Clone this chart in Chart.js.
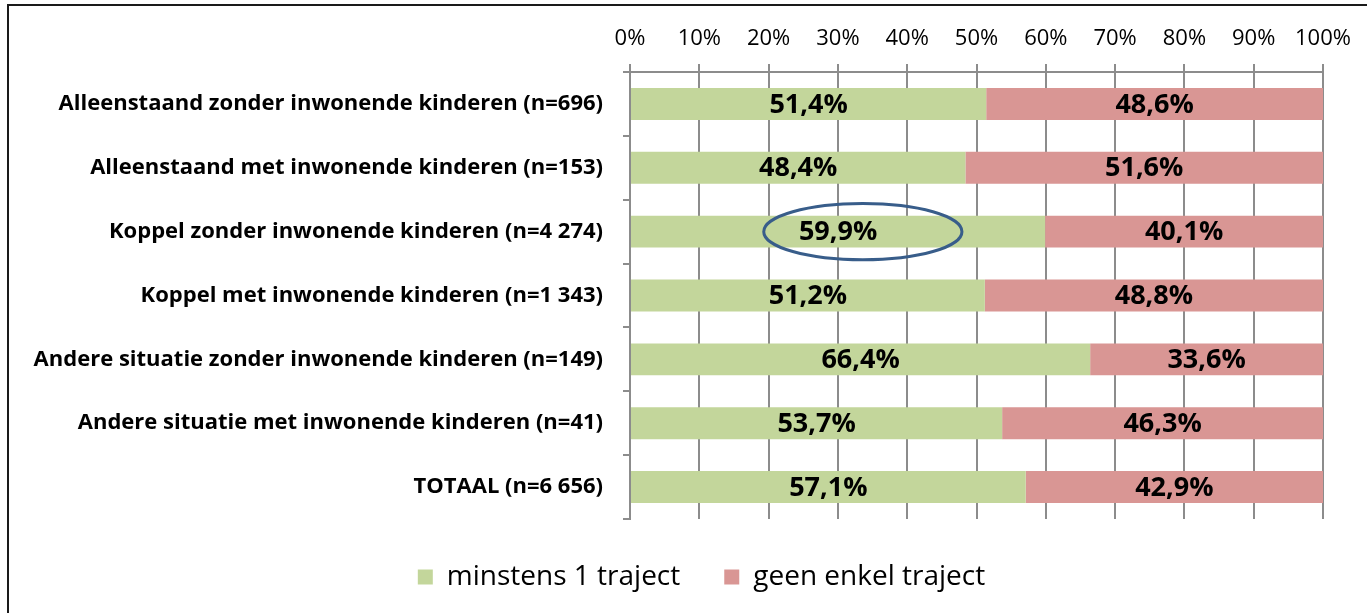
<!DOCTYPE html>
<html>
<head>
<meta charset="utf-8">
<script src="https://cdn.jsdelivr.net/npm/chart.js@4"></script>
<style>
  html, body { margin: 0; padding: 0; background: #fff; }
  #wrap { position: relative; width: 1367px; height: 613px; overflow: hidden; }
  #frame { position: absolute; left: 7px; top: 4px; width: 1400px; height: 700px;
    border-top: 2px solid #1a1a1a; border-left: 2px solid #1a1a1a; pointer-events: none; }
</style>
</head>
<body>
<div id="wrap">
  <canvas id="chart" width="1367" height="613"></canvas>
  <div id="frame"></div>
</div>
<script>
const categories = [
  "Alleenstaand zonder inwonende kinderen (n=696)",
  "Alleenstaand met inwonende kinderen (n=153)",
  "Koppel zonder inwonende kinderen (n=4 274)",
  "Koppel met inwonende kinderen (n=1 343)",
  "Andere situatie zonder inwonende kinderen (n=149)",
  "Andere situatie met inwonende kinderen (n=41)",
  "TOTAAL (n=6 656)",
];
const minstensEen = [51.4, 48.4, 59.9, 51.2, 66.4, 53.7, 57.1];
const geenEnkel = [48.6, 51.6, 40.1, 48.8, 33.6, 46.3, 42.9];
const seriesNames = ["minstens 1 traject", "geen enkel traject"];
const xTicks = [0, 10, 20, 30, 40, 50, 60, 70, 80, 90, 100];
// highlighted row and the span of the ellipse drawn around its label (in %)
const highlightRow = 2;
const highlightSpan = [19.3, 47.9];

const GRID = "#8c8c8c";
const FONT = "'Open Sans'";
const LEGEND_LEFT = 80; // legend is centred a bit right of the canvas middle

function formatPct(value) {
  return `${value.toFixed(1).replace(".", ",")}%`;
}

const barLabels = {
  id: "barLabels",
  afterDatasetsDraw(chart) {
    const { ctx } = chart;
    ctx.save();
    ctx.font = `bold 27px ${FONT}`;
    ctx.fillStyle = "#000";
    ctx.textAlign = "center";
    ctx.textBaseline = "middle";
    chart.data.datasets.forEach((dataset, di) => {
      chart.getDatasetMeta(di).data.forEach((bar, i) => {
        const x = (bar.x + bar.base) / 2;
        ctx.fillText(formatPct(dataset.data[i]), x, bar.y + 1);
      });
    });
    ctx.restore();
  },
};

const highlightEllipse = {
  id: "highlightEllipse",
  afterDraw(chart) {
    const { ctx, scales } = chart;
    const x1 = scales.x.getPixelForValue(highlightSpan[0]);
    const x2 = scales.x.getPixelForValue(highlightSpan[1]);
    const yc = scales.y.getPixelForValue(highlightRow);
    const band = scales.y.getPixelForValue(1) - scales.y.getPixelForValue(0);
    ctx.save();
    ctx.strokeStyle = "#385d8a";
    ctx.lineWidth = 3;
    ctx.beginPath();
    ctx.ellipse((x1 + x2) / 2, yc, (x2 - x1) / 2, band * 0.44, 0, 0, Math.PI * 2);
    ctx.stroke();
    ctx.restore();
  },
};

const legendShift = {
  id: "legendShift",
  afterLayout(chart) {
    if (chart.legend) chart.legend.left = LEGEND_LEFT;
  },
};

new Chart(document.querySelector("#chart"), {
  type: "bar",
  data: {
    labels: categories,
    datasets: [
      { label: seriesNames[0], data: minstensEen, backgroundColor: "#c3d69b" },
      { label: seriesNames[1], data: geenEnkel, backgroundColor: "#d99694" },
    ],
  },
  options: {
    indexAxis: "y",
    responsive: false,
    animation: false,
    layout: { padding: { left: 10, right: 44, top: 0, bottom: 12 } },
    datasets: { bar: { barPercentage: 0.5, categoryPercentage: 1 } },
    plugins: {
      tooltip: { enabled: false },
      legend: {
        position: "bottom",
        labels: {
          boxWidth: 15,
          boxHeight: 15,
          padding: 44,
          color: "#000",
          font: { family: FONT, size: 28 },
        },
      },
    },
    scales: {
      x: {
        position: "top",
        stacked: true,
        min: 0,
        max: 100,
        afterBuildTicks: (scale) => {
          scale.ticks = xTicks.map((value) => ({ value }));
        },
        afterFit: (scale) => {
          scale.height = 72;
        },
        ticks: {
          color: "#000",
          padding: 12,
          font: { family: FONT, size: 22 },
          callback: (value) => `${value}%`,
        },
        grid: { color: GRID, lineWidth: 2, tickLength: 8 },
        border: { color: GRID, width: 2 },
      },
      y: {
        stacked: true,
        afterFit: (scale) => {
          scale.width = 620;
        },
        ticks: {
          color: "#000",
          padding: 20,
          font: { family: FONT, size: 22, weight: "bold" },
        },
        grid: { drawOnChartArea: false, color: GRID, lineWidth: 2, tickLength: 7, offset: true },
        border: { color: GRID, width: 2 },
      },
    },
  },
  plugins: [barLabels, highlightEllipse, legendShift],
});
</script>
</body>
</html>
